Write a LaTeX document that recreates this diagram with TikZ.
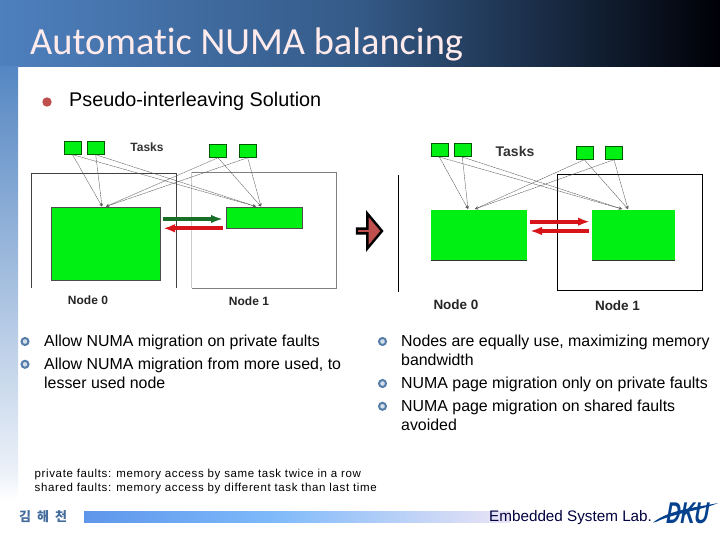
\documentclass[tikz,border=0pt]{standalone}
\usepackage{fontspec}
\setmainfont{Liberation Sans}
\newfontfamily\titlefont[Ligatures=NoCommon]{Carlito}
\newfontfamily\hangulfont{Noto Sans CJK KR}
\newfontfamily\dkufont[UprightFont=* Bold,FakeStretch=0.65,FakeSlant=0.18]{Liberation Sans}
\newfontfamily\notefont[LetterSpace=5.5]{Liberation Sans}
\usetikzlibrary{positioning,shapes.arrows,arrows.meta}
\definecolor{bannerblue}{RGB}{78,128,190}
\definecolor{bannermid}{RGB}{52,90,135}
\definecolor{bannerdark}{RGB}{0,0,6}
\definecolor{sideblue}{RGB}{85,135,195}
\definecolor{sidepale}{RGB}{235,240,248}
\definecolor{taskgreen}{RGB}{0,240,20}
\definecolor{darkarrow}{RGB}{25,110,40}
\definecolor{redarrow}{RGB}{215,20,25}
\definecolor{bulletred}{RGB}{192,80,77}
\definecolor{bulletblue}{RGB}{85,125,170}
\definecolor{labblue}{RGB}{5,65,140}
\definecolor{barstart}{RGB}{95,150,235}
\definecolor{barmid}{RGB}{125,185,250}
\definecolor{barend}{RGB}{235,228,245}
\tikzset{
  body/.style = {anchor = base west, font = \fontsize{15.9}{19}\selectfont, text = black, inner sep = 0pt, align = left},
  tiny/.style = {anchor = base west, font = \notefont\fontsize{11.5}{14}\selectfont, inner sep = 0pt},
  tasklabel/.style = {font = \bfseries\fontsize{12}{14}\selectfont, inner sep = 0pt, text = black!80},
  nodelabel/.style = {font = \bfseries\fontsize{12}{14}\selectfont, inner sep = 0pt, text = black!85},
  task/.style = {fill = taskgreen, draw = green!35!black, line width = 0.5pt, minimum width = 17pt, minimum height = 13.5pt, inner sep = 0pt},
  memory/.style = {fill = taskgreen, draw = black!70, line width = 0.6pt, inner sep = 0pt},
  link/.style = {black!65, line width = 0.4pt, dash pattern = on 2pt off 0.5pt},
  move/.style = {line width = 4.2pt, -{Latex[length = 12pt, width = 8.5pt]}},
  orn/.style = {circle, draw = bulletblue, fill = white!75!bulletblue, line width = 2pt, minimum size = 7pt, inner sep = 0pt}
}
\begin{document}
\begin{tikzpicture}[x=1pt,y=-1pt]
\useasboundingbox (0,0) rectangle (720,540);
% slide background
\fill[white] (0,0) rectangle (720,540);
\shade[left color = bannerblue, right color = bannermid] (0,0) rectangle (360,67);
\shade[left color = bannermid, right color = bannerdark] (360,0) rectangle (720,67);
\shade[top color = sideblue, bottom color = sidepale] (0,67) rectangle (18,470);
\shade[top color = sidepale, bottom color = white] (0,470) rectangle (18,500);
\node[anchor = base west, inner sep = 0pt, text = white!92!red, font = \titlefont\fontsize{38.4}{42}\selectfont] (title) at (30,55) {Automatic NUMA balancing};
\fill[bulletred] (47,102) circle (4.7pt);
\node[body, font = \fontsize{19.8}{22}\selectfont] (head) at (69,106.5) {Pseudo-interleaving Solution};
% left picture
\draw[black!20, line width = 0.7pt] (191.5,288) -- (191.5,172.5);
\draw[black!50, line width = 0.7pt] (191.5,172.5) -| (336.5,288) -- (191.5,288);
\draw[black!75, line width = 0.7pt] (31.5,288) |- (176.5,173.5) -- (176.5,288);
\node[memory, minimum width = 109pt, minimum height = 73pt] (big0) at (105.5,244) {};
\node[memory, minimum width = 76pt, minimum height = 21pt] (small1) at (264,217.8) {};
\node[task] (t1) at (72.5,147.7) {};
\node[task] (t2) at (95.7,147.7) {};
\node[task] (t3) at (218,150.7) {};
\node[task] (t4) at (247.7,150.7) {};
\node[tasklabel] (tasksa) at (147,147.5) {Tasks};
\coordinate (heada) at (102,206.5);
\coordinate (headb) at (106,206.5);
\coordinate (headc) at (256,206.5);
\coordinate (headd) at (261,206.5);
\foreach \t/\u/\v in {t1/heada/headc, t2/heada/headc, t3/headb/headd, t4/headb/headd} {
  \draw[link, ->, >=stealth] (\t.south) -- (\u);
  \draw[link, ->, >=stealth] (\t.south) -- (\v);
}
\node[nodelabel] (n0) at (88,300) {Node 0};
\node[nodelabel] (n1) at (249,301) {Node 1};
\coordinate (ga) at (163,219);
\coordinate (gb) at (223,219);
\coordinate (ra) at (223,228.3);
\coordinate (rb) at (163,228.3);
\draw[move, darkarrow] (ga) -- (gb);
\draw[move, redarrow] (ra) -- (rb);
% big arrow
\node[single arrow, draw = black, line width = 2.4pt, fill = bulletred, minimum width = 35pt, minimum height = 25pt, single arrow head extend = 7.5pt, single arrow tip angle = 100, inner sep = 0pt] (shift) at (368.5,231) {};
% right picture
\draw[black, line width = 0.7pt] (398.5,175) -- (398.5,292);
\draw[black, line width = 0.7pt] (557.5,174.5) rectangle (702.5,290.5);
\node[memory, draw = none, minimum width = 96pt, minimum height = 50.5pt] (big2) at (479,235) {};
\node[memory, draw = none, minimum width = 83pt, minimum height = 50.5pt] (big3) at (633.5,235) {};
\draw[black!80, line width = 0.6pt] (big2.south west) -- (big2.south east);
\draw[black!80, line width = 0.6pt] (big3.south west) -- (big3.south east);
\node[task] (s1) at (439.3,150) {};
\node[task] (s2) at (462.3,150) {};
\node[task] (s3) at (584.3,152.7) {};
\node[task] (s4) at (614,152.7) {};
\node[tasklabel, font = \bfseries\fontsize{14}{16}\selectfont] (tasksb) at (515,151.5) {Tasks};
\coordinate (heade) at (468,209);
\coordinate (headf) at (475,209);
\coordinate (headg) at (622,209);
\coordinate (headh) at (628,209);
\foreach \t/\u/\v in {s1/heade/headg, s2/heade/headg, s3/headf/headh, s4/headf/headh} {
  \draw[link, ->, >=stealth] (\t.south) -- (\u);
  \draw[link, ->, >=stealth] (\t.south) -- (\v);
}
\node[nodelabel, font = \bfseries\fontsize{13.5}{16}\selectfont] (n2) at (456,305) {Node 0};
\node[nodelabel, font = \bfseries\fontsize{13.5}{16}\selectfont] (n3) at (617.5,306) {Node 1};
\coordinate (pa) at (530,221.7);
\coordinate (pb) at (590,221.7);
\coordinate (qa) at (589,231);
\coordinate (qb) at (530,231);
\draw[move, redarrow] (pa) -- (pb);
\draw[move, redarrow] (qa) -- (qb);
% bullets and text
\foreach \bx/\by in {25/341.5, 25/364.3, 382.5/341.5, 382.5/383.5, 382.5/406.3}
  \node[orn] at (\bx,\by) {};
\node[body] (l1) at (44,346) {Allow NUMA migration on private faults};
\node[body] (l2) at (44,369) {Allow NUMA migration from more used, to};
\node[body] (l3) at (44,388) {lesser used node};
\node[body] (r1) at (401,346) {Nodes are equally use, maximizing memory};
\node[body] (r2) at (401,365) {bandwidth};
\node[body] (r3) at (401,388) {NUMA page migration only on private faults};
\node[body] (r4) at (401,411) {NUMA page migration on shared faults};
\node[body] (r5) at (401,430) {avoided};
\node[tiny] (f1) at (34.5,477) {private faults: memory access by same task twice in a row};
\node[tiny] (f2) at (34.5,491) {shared faults: memory access by different task than last time};
% footer
\node[anchor = base west, inner sep = 0pt, text = sideblue!80!black, font = \hangulfont\bfseries\fontsize{13}{14}\selectfont] (name) at (19,521.5) {김\hspace{6pt}해\hspace{6pt}천};
\shade[left color = barstart, right color = barmid] (84,511) rectangle (270,522);
\shade[left color = barmid, right color = barend] (270,511) rectangle (510,522);
\node[anchor = base west, inner sep = 0pt, text = black!75!blue, font = \fontsize{15.25}{18}\selectfont] (lab) at (489,521.5) {Embedded System Lab.};
% logo
\fill[labblue] (653,522.5) .. controls (670,509) and (700,507) .. (718,503) .. controls (702,510) and (672,514) .. (657,521.5) -- cycle;
\node[anchor = base west, inner sep = 0pt, text = labblue, font = \dkufont\fontsize{30}{30}\selectfont] (dku) at (665,523.5) {DKU};
\end{tikzpicture}
\end{document}
